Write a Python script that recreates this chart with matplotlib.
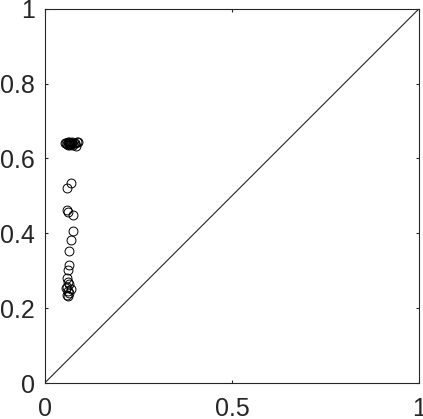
import matplotlib

matplotlib.use("Agg")
import matplotlib.pyplot as plt

# points (x, y)
x_vals = [
    0.055, 0.058, 0.060, 0.062, 0.063, 0.064, 0.065, 0.066, 0.067, 0.068,
    0.069, 0.070, 0.072, 0.074, 0.076, 0.078, 0.080, 0.083, 0.086, 0.090,
    0.070, 0.059,
    0.059, 0.062, 0.075,
    0.075, 0.069, 0.065,
    0.066, 0.063, 0.059, 0.062,
    0.066, 0.060, 0.070, 0.058, 0.062, 0.064, 0.060, 0.063,
]
y_vals = [
    0.640, 0.642, 0.638, 0.643, 0.637, 0.641, 0.644, 0.639, 0.636, 0.642,
    0.640, 0.638, 0.643, 0.641, 0.636, 0.640, 0.642, 0.633, 0.644, 0.645,
    0.535, 0.520,
    0.462, 0.458, 0.449,
    0.406, 0.382, 0.353,
    0.314, 0.302, 0.280, 0.270,
    0.265, 0.257, 0.252, 0.255, 0.246, 0.240, 0.235, 0.232,
]
line_x = [0, 1]
line_y = [0, 1]

AX_COLOR = "#262626"

fig = plt.figure(figsize=(4.23, 4.19), dpi=100)
ax = fig.add_axes([0.1057, 0.0859, 0.885, 0.8933])

ax.plot(line_x, line_y, color=AX_COLOR, linewidth=0.8)
ax.plot(
    x_vals, y_vals, linestyle="none", marker="o", markersize=6.4,
    markerfacecolor="none", markeredgecolor="black", markeredgewidth=0.7,
)

ax.set_xlim(0, 1)
ax.set_ylim(0, 1)
ax.set_xticks([0, 0.5, 1])
ax.set_xticklabels(["0", "0.5", "1"])
ax.set_yticks([0, 0.2, 0.4, 0.6, 0.8, 1])
ax.set_yticklabels(["0", "0.2", "0.4", "0.6", "0.8", "1"])

for spine in ax.spines.values():
    spine.set_color(AX_COLOR)
    spine.set_linewidth(0.8)

ax.tick_params(
    direction="in", length=2.5, width=0.8, colors=AX_COLOR,
    top=True, right=True, labelsize=18,
)
ax.tick_params(axis="x", pad=9.8)
ax.tick_params(axis="y", pad=7)
for label in ax.get_xticklabels() + ax.get_yticklabels():
    label.set_fontfamily("Liberation Sans")
    label.set_color(AX_COLOR)

fig.savefig("out.png", dpi=100)
